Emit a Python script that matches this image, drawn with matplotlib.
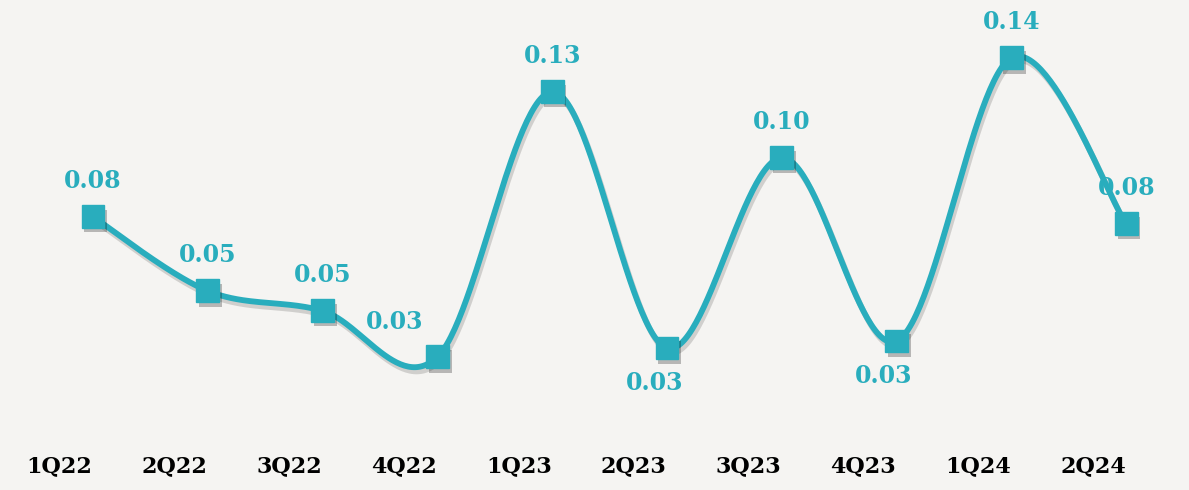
import numpy as np
import matplotlib
matplotlib.use("Agg")
import matplotlib.pyplot as plt
import matplotlib.patheffects as pe

quarters = ["1Q22", "2Q22", "3Q22", "4Q22", "1Q23", "2Q23", "3Q23", "4Q23", "1Q24", "2Q24"]
eps = [0.080, 0.0525, 0.0451, 0.028, 0.1264, 0.0313, 0.1019, 0.0339, 0.139, 0.0774]
# where each value label sits relative to its marker
label_pos = ["up", "up", "up", "upleft", "up", "down", "up", "down", "up", "up"]

TEAL = "#29adbd"
BG = "#f5f4f2"


def catmull_rom(x, y, n=60):
    # Excel-style smoothed line: cubic Bezier with tangents (P[i+1]-P[i-1])/6
    x = np.asarray(x, float)
    y = np.asarray(y, float)
    px = np.concatenate([[x[0]], x, [x[-1]]])
    py = np.concatenate([[y[0]], y, [y[-1]]])
    xs, ys = [], []
    t = np.linspace(0, 1, n)
    for i in range(1, len(px) - 2):
        p0 = np.array([px[i], py[i]])
        p3 = np.array([px[i + 1], py[i + 1]])
        p1 = p0 + (np.array([px[i + 1], py[i + 1]]) - np.array([px[i - 1], py[i - 1]])) / 6
        p2 = p3 - (np.array([px[i + 2], py[i + 2]]) - np.array([px[i], py[i]])) / 6
        b = (((1 - t) ** 3)[:, None] * p0 + (3 * (1 - t) ** 2 * t)[:, None] * p1
             + (3 * (1 - t) * t ** 2)[:, None] * p2 + (t ** 3)[:, None] * p3)
        xs.extend(b[:, 0])
        ys.extend(b[:, 1])
    return np.array(xs), np.array(ys)


fig = plt.figure(figsize=(11.89, 4.90), dpi=100, facecolor=BG)
ax = fig.add_axes([0, 0, 1, 1])
ax.set_facecolor(BG)

x = np.arange(len(quarters))
sx, sy = catmull_rom(x, eps)

shadow = [pe.SimpleLineShadow(offset=(1.5, -3), shadow_color="black", alpha=0.15), pe.Normal()]
ax.plot(sx, sy, color=TEAL, lw=4.2, solid_capstyle="round", path_effects=shadow, zorder=2)
ax.plot(x, eps, linestyle="none", marker="s", markersize=16.5, color=TEAL, zorder=3,
        path_effects=[pe.SimplePatchShadow(offset=(2, -3), shadow_rgbFace="black", alpha=0.25), pe.Normal()])

offsets = {"up": (0, 26), "down": (-9, -25), "upleft": (-31, 25)}
for xi, v, pos in zip(x, eps, label_pos):
    dx, dy = offsets[pos]
    ax.annotate(f"{v:.2f}", (xi, v), xytext=(dx, dy), textcoords="offset points",
                ha="center", va="center", fontsize=17, fontweight="bold",
                family="DejaVu Serif", color=TEAL, zorder=4)

for xi, q in zip(x, quarters):
    ax.text(xi - 0.29, 0.049, q, transform=ax.get_xaxis_transform(), ha="center", va="center",
            fontsize=16, fontweight="bold", family="DejaVu Serif", color="black")

ax.set_xlim(-0.81, 9.547)
ax.set_ylim(-0.0214, 0.1605)
ax.axis("off")

fig.savefig("out.png", dpi=100, facecolor=BG)
